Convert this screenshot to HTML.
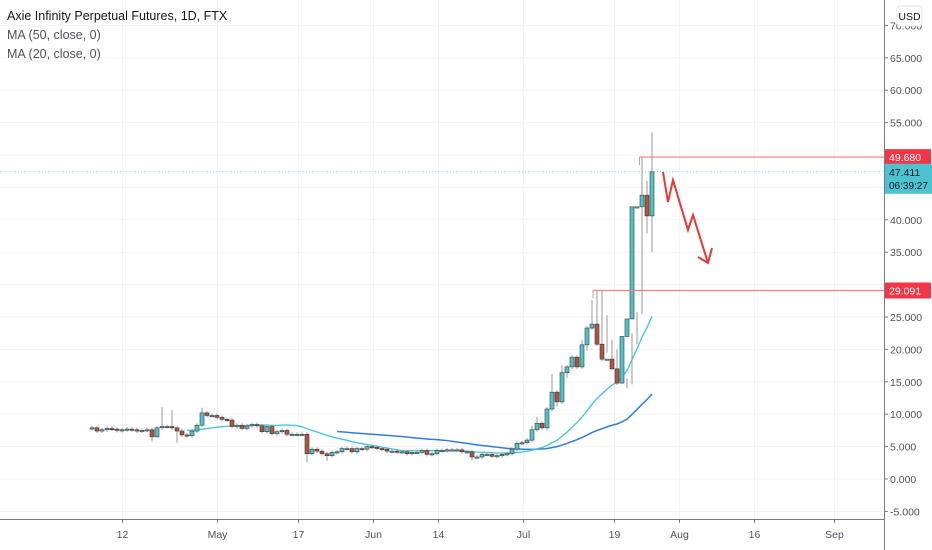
<!DOCTYPE html>
<html><head><meta charset="utf-8"><style>
html,body{margin:0;padding:0;background:#fff;}
svg{display:block;font-family:"Liberation Sans",sans-serif;}
</style></head><body>
<svg id="chart" width="932" height="550" viewBox="0 0 932 550">
<g id="grid"></g>
<g id="ma"></g>
<g id="candles"></g>
<g id="overlay">
  <polyline points="663,172 668,202 673,180 688,230 693,215 708,263" fill="none" stroke="#e53935" stroke-width="2"/>
  <polyline points="698,257 708,263 712,248" fill="none" stroke="#e53935" stroke-width="2"/>
</g>
<g id="axes"></g>
<text x="7" y="20" font-size="12.5" fill="#131722">Axie Infinity Perpetual Futures, 1D, FTX</text>
<text x="7" y="39" font-size="12.5" fill="#50535e">MA (50, close, 0)</text>
<text x="7" y="58" font-size="12.5" fill="#50535e">MA (20, close, 0)</text>
<g>
  <rect x="897" y="6" width="25" height="20" rx="3" fill="#fff" stroke="#e0e3eb"/>
  <text x="909.5" y="20" font-size="10.5" fill="#131722" text-anchor="middle">USD</text>
</g>
</svg>
<script>
const closes = [7.9,7.4,7.6,7.8,7.7,7.5,7.6,7.7,7.6,7.4,7.5,7.6,
6.5,7.9,8.1,8.1,7.9,7.4,6.8,6.7,7.4,8.3,10.2,9.8,9.8,9.5,9.2,9.1,8.1,8.3,7.8,8.2,8.4,8.2,7.3,8.1,7.0,7.3,7.5,6.9,6.9,6.9,6.9,
3.9,4.6,4.3,3.9,3.6,4.1,4.2,4.7,4.7,4.2,4.7,4.6,5.0,4.9,4.7,4.6,4.3,4.3,4.2,4.2,3.9,4.1,4.1,4.4,3.8,3.9,4.4,4.4,4.5,4.5,4.5,4.2,4.2,3.4,3.4,3.8,3.8,3.5,3.6,3.8,3.9,4.6,5.5,
5.6,6.0,7.6,8.6,7.9,10.8,13.4,11.9,16.4,17.3,18.8,17.3,20.7,23.3,23.9,20.8,18.5,18.5,17.0,14.8,22.0,24.7,42.0,42.0,43.8,40.6,47.4];
const firstOpen = 7.8;
const wickHigh = {14:11.1,16:10.6,22:11.0,88:8.2,89:9.6,92:16.2,94:17.6,98:21.5,100:27.6,101:29.0,102:29.0,103:25.3,104:21.5,105:20.0,106:17.5,107:15.5,108:22.5,109:25.8,110:49.7,111:46.0,112:53.5};
const wickLow = {12:5.8,13:6.5,17:5.6,43:2.6,47:2.8,76:2.9,91:7.5,93:11.2,95:15.6,99:19.8,103:19.5,104:16.8,106:14.8,107:14.0,108:14.6,109:20.8,110:25.4,111:37.9,112:35.0};
const priceTicks = [-5,0,5,10,15,20,25,30,35,40,45,50,55,60,65,70];
const dateLabels = ["12","May","17","Jun","14","Jul","19","Aug","16","Sep"];
const dateLabelIdx = [6,25,41.2,56.2,69.2,86.2,104.4,117.4,132.4,148.4];
const lineLevels = [49.68,29.091];
const lineStartIdx = [109.5,100.2];
const lastPrice = 47.411;

const NS="http://www.w3.org/2000/svg";
const yS = v => 479 - 6.48*v;
const xS = i => 92 + 5*i;
function mk(tag, attrs, parent){const e=document.createElementNS(NS,tag);for(const k in attrs)e.setAttribute(k,attrs[k]);parent.appendChild(e);return e;}
const grid=document.getElementById('grid'), axes=document.getElementById('axes'), cg=document.getElementById('candles'), mg=document.getElementById('ma'), ov=document.getElementById('overlay');

priceTicks.forEach(v=>{
  const y=yS(v);
  const l=mk('line',{x1:0,x2:884,y1:y,y2:y,stroke:'#f0f3fa'},grid);
  
  
  if(v===30||v===45) return;
  const t=mk('text',{x:890,y:y+4,'font-size':'10.5',fill:'#50535e'},axes);
  
  
  t.textContent=v.toFixed(3);
  mk('line',{x1:884,x2:888,y1:y,y2:y,stroke:'#787b86'},axes);
});
dateLabels.forEach((s,k)=>{
  const x=xS(dateLabelIdx[k])+0.5;
  const l=mk('line',{x1:x,x2:x,y1:0,y2:519,stroke:'#f0f3fa'},grid);
  
  
  mk('line',{x1:x,x2:x,y1:519,y2:523,stroke:'#787b86'},axes);
  const t=mk('text',{x:x,y:538,'font-size':'10.5',fill:'#50535e','text-anchor':'middle'},axes);
  
  
  t.textContent=s;
});
mk('line',{x1:884.5,x2:884.5,y1:0,y2:550,stroke:'#787b86'},axes);
mk('line',{x1:0,x2:884,y1:519.5,y2:519.5,stroke:'#787b86'},axes);

const lpY=yS(lastPrice);
mk('line',{x1:0,x2:884,y1:lpY,y2:lpY,stroke:'#4dd0e1','stroke-dasharray':'1,2','stroke-width':0.8},grid);

function ma(n){const out=[];for(let i=n-1;i<closes.length;i++){let s=0;for(let j=i-n+1;j<=i;j++)s+=closes[j];out.push([xS(i),yS(s/n)]);}return out;}
const m50=mk('polyline',{points:ma(50).map(p=>p.join(',')).join(' '),fill:'none',stroke:'#2f7de1','stroke-width':1.5},mg);


const m20=mk('polyline',{points:ma(20).map(p=>p.join(',')).join(' '),fill:'none',stroke:'#3cc6dc','stroke-width':1.3},mg);



closes.forEach((c,i)=>{
  const o = i===0?firstOpen:closes[i-1];
  const hi = wickHigh[i]!==undefined?wickHigh[i]:Math.max(o,c)+0.3;
  const lo = wickLow[i]!==undefined?wickLow[i]:Math.min(o,c)-0.3;
  const x=xS(i), up=c>=o;
  const col = up?'#4ec3ca':'#b0543f';
  mk('line',{x1:x,x2:x,y1:yS(hi),y2:yS(lo),stroke:'#9a9a9a','stroke-width':1},cg);
  const top=yS(Math.max(o,c)), h=Math.max(1.2,yS(Math.min(o,c))-top);
  const r=mk('rect',{x:x-2,y:top,width:4,height:h,fill:col,stroke:'#3a3a3a','stroke-width':0.6},cg);
  
  
});

lineLevels.forEach((v,k)=>{
  const y=yS(v), x0=xS(lineStartIdx[k]);
  const l=mk('line',{x1:x0,x2:884,y1:y,y2:y,stroke:'#f08080','stroke-width':1.2},ov);
  
  
  mk('line',{x1:x0,x2:x0,y1:y,y2:y+8,stroke:'#c8a0a0','stroke-width':1},ov);
  const g=mk('g',{},axes);
  
  
  mk('rect',{x:885,y:y-8,width:46,height:16,fill:'#f23645',rx:1},g);
  const t=mk('text',{x:889,y:y+4,'font-size':'10.5',fill:'#fff'},g);
  t.textContent=v.toFixed(3);
});
const lg=mk('g',{},axes);


mk('rect',{x:885,y:lpY-8,width:47,height:30,fill:'#4dc3d0'},lg);
const t1=mk('text',{x:889,y:lpY+4,'font-size':'10.5',fill:'#131722'},lg); t1.textContent=lastPrice.toFixed(3);
const t2=mk('text',{x:889,y:lpY+17,'font-size':'10','fill':'#131722'},lg); t2.textContent='06:39:27';
</script>
</body></html>
